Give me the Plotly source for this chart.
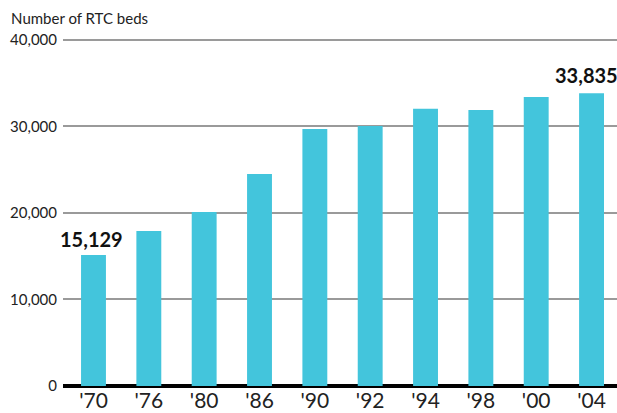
import plotly.graph_objects as go

years = ["'70", "'76", "'80", "'86", "'90", "'92", "'94", "'98", "'00", "'04"]
beds = [15129, 17900, 20100, 24500, 29700, 30050, 32050, 31900, 33400, 33835]
y_ticks = [0, 10000, 20000, 30000, 40000]

bar_color = "#43C5DC"
font_name = "Lato"

fig = go.Figure()
fig.add_trace(go.Bar(x=years, y=beds, marker_color=bar_color, width=0.45,
                     marker_line_width=0, hoverinfo="skip"))

# label only the first and last bars
fig.add_annotation(x=years[0], y=beds[0], text="<b>15,129</b>", showarrow=False,
                   yanchor="bottom", yshift=2, xshift=-2,
                   font=dict(family=font_name, size=20, color="#111"))
fig.add_annotation(x=years[-1], y=beds[-1], text="<b>33,835</b>", showarrow=False,
                   yanchor="bottom", yshift=4, xshift=-5,
                   font=dict(family=font_name, size=20, color="#111"))

fig.update_layout(
    width=617, height=413,
    margin=dict(l=63, r=0, t=36, b=27),
    plot_bgcolor="white", paper_bgcolor="white",
    showlegend=False,
    font=dict(family=font_name, color="#222"),
    title=dict(text="Number of RTC beds", x=0.018, xanchor="left", y=0.955, yanchor="middle",
               font=dict(family=font_name, size=15, color="#222")),
    xaxis=dict(range=[-0.551, 9.46], showgrid=False, ticks="", showline=False,
               automargin=False,
               tickfont=dict(size=21, color="#222"), ticklabelstandoff=0),
    yaxis=dict(range=[0, 40450], tickvals=y_ticks, tickformat=",",
               showgrid=True, gridcolor="#9a9a9a", gridwidth=1.5,
               zeroline=True, zerolinecolor="#000", zerolinewidth=4,
               showline=False, ticks="", ticklabelstandoff=5, automargin=False,
               tickfont=dict(size=15, color="#222")),
)

# the page gets the browser's default 8px body margin; drop it
fig.write_html("out.html", config={"displayModeBar": False},
               post_script="document.body.style.margin='0';")
